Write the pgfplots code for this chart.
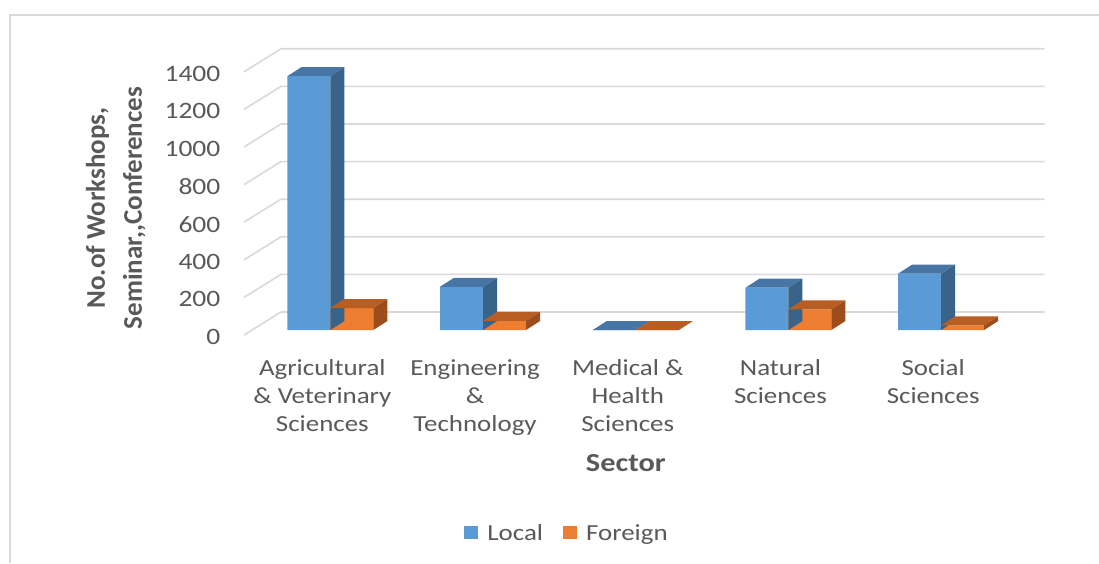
\documentclass[border=0pt]{standalone}
\usepackage{fontspec}
\setmainfont{Carlito}[FakeStretch=1.17]
\newfontfamily\labfont{Carlito}
\usepackage{pgfplots}
\usepackage{pgfplotstable}
\pgfplotsset{compat=1.18}

\definecolor{cLocal}{HTML}{5B9BD5}
\definecolor{cLocalTop}{HTML}{4776A6}
\definecolor{cLocalSide}{HTML}{3A6389}
\definecolor{cForeign}{HTML}{ED7D31}
\definecolor{cForeignTop}{HTML}{B85E22}
\definecolor{cForeignSide}{HTML}{9C4D1B}
\definecolor{txt}{HTML}{595959}
\definecolor{gridc}{HTML}{D9D9D9}

% top and side faces of a bar, drawn at the bar's top point
% y unit is 0.188pt, so \h*0.188pt is the bar height
\newcommand\cubefaces[4]{%
  \pgfmathsetlengthmacro\hh{\h*0.188pt}%
  \pgfsetfillcolor{#3}%
  \pgfpathmoveto{\pgfpoint{#1}{0pt}}%
  \pgfpathlineto{\pgfpoint{#2}{0pt}}%
  \pgfpathlineto{\pgfpoint{#2+14pt}{9pt}}%
  \pgfpathlineto{\pgfpoint{#1+14pt}{9pt}}%
  \pgfpathclose\pgfusepath{fill}%
  \pgfsetfillcolor{#4}%
  \pgfpathmoveto{\pgfpoint{#2}{0pt}}%
  \pgfpathlineto{\pgfpoint{#2+14pt}{9pt}}%
  \pgfpathlineto{\pgfpoint{#2+14pt}{9pt-\hh}}%
  \pgfpathlineto{\pgfpoint{#2}{-\hh}}%
  \pgfpathclose\pgfusepath{fill}%
}
\pgfdeclareplotmark{cubeL}{\cubefaces{-43pt}{0pt}{cLocalTop}{cLocalSide}}
\pgfdeclareplotmark{cubeF}{\cubefaces{0pt}{43pt}{cForeignTop}{cForeignSide}}

\pgfplotstableread{
x local foreign
0 1350 117
1 230  48
2 0    0
3 225  110
4 300  25
}\sectors

\begin{document}
\begin{tikzpicture}
\path[use as bounding box] (0,0) rectangle (1099pt,563pt);
\draw[gridc, line width=1.5pt] (10pt,0pt) -- (10pt,548pt) -- (1099pt,548pt);
\begin{axis}[
    at={(254pt,233pt)}, anchor=south west,
    x=152.7pt, y=0.188pt,
    xmin=-0.5, xmax=4.5, ymin=0, ymax=1400,
    axis lines=left,
    axis line style={draw=none},
    tick style={draw=none},
    clip=false,
    ytick={0,200,...,1400},
    /pgf/number format/1000 sep={},
    /pgf/number format/assume math mode=true,
    yticklabel style={font=\fontsize{23.5}{27}\selectfont, text=txt, xshift=-28pt, yshift=-7pt},
    xtick={0,...,4},
    xticklabels={Agricultural\\\& Veterinary\\Sciences, Engineering\\\&\\Technology,
        Medical \&\\Health\\Sciences, Natural\\Sciences, Social\\Sciences},
    xticklabel style={font=\fontsize{23}{28}\selectfont, text=txt, align=center,
        xshift=-8pt, yshift=-24pt},
    xlabel={Sector},
    xlabel style={at={(axis description cs:0.487,-0.505)}, anchor=center,
        font=\bfseries\fontsize{26}{30}\selectfont, text=txt},
    ylabel={No.of Workshops,\\Seminar,\kern0pt,Conferences},
    ylabel style={at={(axis description cs:-0.181,0.4635)}, anchor=center, align=center,
        font=\labfont\bfseries\fontsize{27}{37}\selectfont, text=txt},
    legend style={at={(0.41,-0.771)}, anchor=center, draw=none, fill=none,
        legend columns=2, font=\fontsize{23}{28}\selectfont, text=txt,
        /tikz/every even column/.append style={column sep=18pt}},
    legend cell align=left,
]
% floor lines and back-wall grid
\pgfplotsinvokeforeach{0,200,400,600,800,1000,1200,1400}{
  \draw[gridc, line width=1.6pt]
    ([shift={(-10pt,-5pt)}]axis cs:-0.5,#1) --
    ([shift={(27pt,18pt)}]axis cs:-0.5,#1) --
    ([shift={(27pt,18pt)}]axis cs:4.5,#1);
}
\addplot[ybar, bar width=43pt, bar shift=-21.5pt, fill=cLocal, draw=none,
    legend image code/.code={\fill[cLocal] (0pt,-6pt) rectangle (14pt,7pt); \path (21pt,0pt);}]
    table[x=x, y=local] {\sectors};
\addlegendentry{Local}
\addplot[only marks, mark=cubeL, forget plot,
    visualization depends on={rawy \as \h}]
    table[x=x, y=local] {\sectors};
\addplot[ybar, bar width=43pt, bar shift=21.5pt, fill=cForeign, draw=none,
    legend image code/.code={\fill[cForeign] (0pt,-6pt) rectangle (14pt,7pt); \path (21pt,0pt);}]
    table[x=x, y=foreign] {\sectors};
\addlegendentry{Foreign}
\addplot[only marks, mark=cubeF, forget plot,
    visualization depends on={rawy \as \h}]
    table[x=x, y=foreign] {\sectors};
\end{axis}
\end{tikzpicture}
\end{document}
